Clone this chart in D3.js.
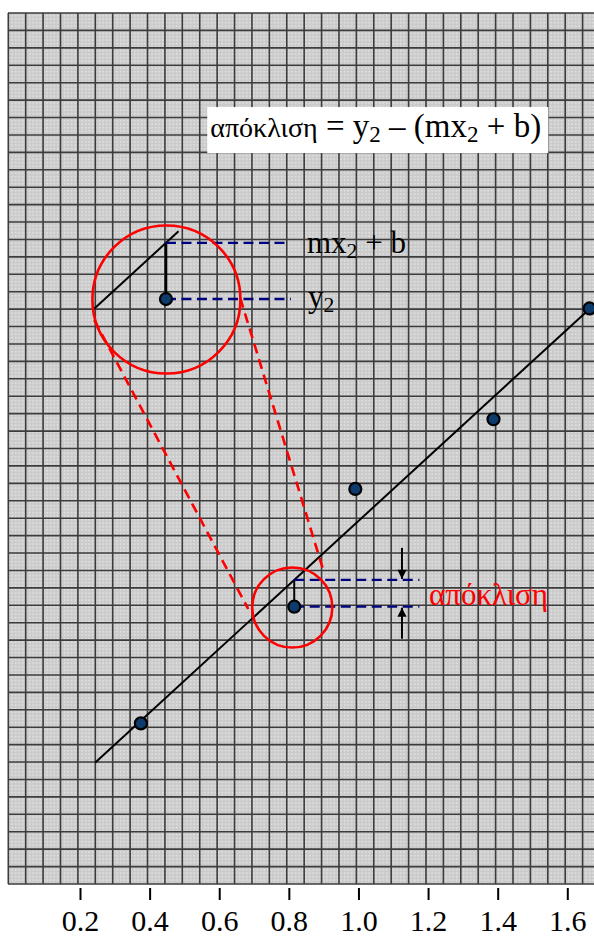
<!DOCTYPE html>
<html>
<head>
<meta charset="utf-8">
<script src="https://cdn.jsdelivr.net/npm/d3@7/dist/d3.min.js"></script>
<style>
  html, body { margin: 0; padding: 0; background: #ffffff; }
  svg { display: block; }
  svg text { font-family: "Liberation Serif", Tinos, "Times New Roman", "DejaVu Serif", serif !important; }
</style>
</head>
<body>
<svg id="chart" width="594" height="936"></svg>
<script>
// ---- data ----
const xTicks = [0.2, 0.4, 0.6, 0.8, 1.0, 1.2, 1.4, 1.6];
const pointX = [0.375, 0.8155, 0.991, 1.388, 1.664];
const pointY = [0.461, 0.796, 1.134, 1.334, 1.652];
const slope = 0.917;
const intercept = 0.125;
const fitRange = [0.244, 1.72];
const focusIndex = 1;                 // the point whose deviation is shown

// annotation geometry, in data units
const smallCircle = { cx: 0.8098, cy: 0.7936, r: 0.115 };
const bigCircle   = { cx: 0.4483, cy: 1.6777, r: 0.2126 };
const insetAnchor = [0.447, 1.679];   // where the focus point is redrawn, enlarged
const insetScale = 2.1;
const insetLineDx = [-0.099, 0.0172];
const connectors = [
  [[0.2409, 1.6188], [0.6834, 0.7893]],
  [[0.6604, 1.6820], [0.8988, 0.9013]]
];
const insetGuideEnd = 0.80;
const deviationGuideEnd = 1.175;
const arrowX = 1.125;
const arrowLen = 0.092;
const formulaBox = { x0: 0.5656, x1: 1.5453, y0: 2.098, y1: 2.230, baseline: 2.145 };

// ---- layout ----
const svg = d3.select("#chart");
const paper = { left: 8, top: 13, right: 594, bottom: 884 };
const gridOrigin = -0.006;
const gridStep = 0.05;

const x = d3.scaleLinear().domain([0.2, 1.6]).range([80, 567.3]);
const y = d3.scaleLinear().domain([0, 2.5]).range([paper.bottom, paper.top]);
const fit = v => slope * v + intercept;

// ---- graph paper ----
const defs = svg.append("defs");
const pat = defs.append("pattern").attr("id", "paperDots")
  .attr("width", 3.5).attr("height", 3.5).attr("patternUnits", "userSpaceOnUse");
pat.append("rect").attr("width", 3.5).attr("height", 3.5).attr("fill", "#cbcbcb");
pat.append("rect").attr("x", 1).attr("y", 1).attr("width", 1.3).attr("height", 1.3).attr("fill", "#eeeeee");

svg.append("rect")
  .attr("x", paper.left).attr("y", paper.top)
  .attr("width", paper.right - paper.left).attr("height", paper.bottom - paper.top)
  .attr("fill", "url(#paperDots)");

const xMaxData = x.invert(paper.right);
const vLines = d3.range(gridOrigin, xMaxData + 1e-9, gridStep);
const hLines = d3.range(0, 2.5 + 1e-9, gridStep);
const grid = svg.append("g").attr("stroke", "#3c3c3c").attr("stroke-width", 1.6);
grid.selectAll("line.v").data(vLines).join("line")
  .attr("x1", d => x(d)).attr("x2", d => x(d))
  .attr("y1", paper.top).attr("y2", paper.bottom);
grid.selectAll("line.h").data(hLines).join("line")
  .attr("x1", paper.left).attr("x2", paper.right)
  .attr("y1", d => y(d)).attr("y2", d => y(d));

// ---- x axis ----
const axis = svg.append("g")
  .attr("transform", `translate(0,${paper.bottom + 4})`)
  .call(d3.axisBottom(x).tickValues(xTicks).tickSize(12).tickFormat(d3.format(".1f")));
axis.attr("font-family", null).attr("font-size", null);
axis.select(".domain").remove();
axis.selectAll(".tick line").attr("stroke", "#000").attr("stroke-width", 2);
axis.selectAll(".tick text")
  .attr("y", 43).attr("dy", 0)
  .attr("fill", "#000")
  .attr("font-size", 30);

// ---- fitted line ----
svg.append("line")
  .attr("x1", x(fitRange[0])).attr("y1", y(fit(fitRange[0])))
  .attr("x2", x(fitRange[1])).attr("y2", y(fit(fitRange[1])))
  .attr("stroke", "#000").attr("stroke-width", 2);

// ---- formula ----
svg.append("rect")
  .attr("x", x(formulaBox.x0)).attr("y", y(formulaBox.y1))
  .attr("width", x(formulaBox.x1) - x(formulaBox.x0))
  .attr("height", y(formulaBox.y0) - y(formulaBox.y1))
  .attr("fill", "#fff");

function withSubscripts(sel, parts) {
  parts.forEach(p => {
    const t = sel.append("tspan").text(p.t);
    if (p.size) t.attr("font-size", p.size);
    if (p.sub) t.attr("font-size", "0.7em").attr("baseline-shift", "-0.22em");
  });
}
const formula = svg.append("text")
  .attr("x", x(formulaBox.x0) + 3).attr("y", y(formulaBox.baseline))
  .attr("font-size", 33).attr("fill", "#000");
withSubscripts(formula, [
  { t: "απόκλιση", size: 28 }, { t: " = y" }, { t: "2", sub: true }, { t: " – (mx" }, { t: "2", sub: true }, { t: " + b)" }
]);

// ---- deviation at the focus point ----
const fx = pointX[focusIndex], fy = pointY[focusIndex];
const dev = svg.append("g");
dev.append("line")
  .attr("x1", x(fx)).attr("x2", x(fx))
  .attr("y1", y(fy)).attr("y2", y(fit(fx)))
  .attr("stroke", "#000").attr("stroke-width", 2);

const blueDash = { stroke: "#00007f", "stroke-width": 2.4, "stroke-dasharray": "10,5.5" };
function dashed(g, x1, y1, x2, y2, style) {
  const l = g.append("line").attr("x1", x1).attr("y1", y1).attr("x2", x2).attr("y2", y2);
  Object.entries(style).forEach(([k, v]) => l.attr(k, v));
  return l;
}
dashed(dev, x(fx), y(fit(fx)), x(deviationGuideEnd), y(fit(fx)), blueDash);
dashed(dev, x(fx), y(fy), x(deviationGuideEnd), y(fy), blueDash);

// arrows pointing at the two guide lines
defs.append("marker").attr("id", "arrowHead")
  .attr("viewBox", "0 0 10 10").attr("refX", 10).attr("refY", 5)
  .attr("markerWidth", 5.2).attr("markerHeight", 4.6).attr("markerUnits", "strokeWidth")
  .attr("orient", "auto")
  .append("path").attr("d", "M0,0 L10,5 L0,10 Z").attr("fill", "#000");
dev.append("line")
  .attr("x1", x(arrowX)).attr("x2", x(arrowX))
  .attr("y1", y(fit(fx) + arrowLen)).attr("y2", y(fit(fx)) - 1)
  .attr("stroke", "#000").attr("stroke-width", 2).attr("marker-end", "url(#arrowHead)");
dev.append("line")
  .attr("x1", x(arrowX)).attr("x2", x(arrowX))
  .attr("y1", y(fy - arrowLen)).attr("y2", y(fy) + 1)
  .attr("stroke", "#000").attr("stroke-width", 2).attr("marker-end", "url(#arrowHead)");

svg.append("text")
  .attr("x", x(1.203)).attr("y", y(0.80))
  .attr("font-size", 31).attr("fill", "#ff0000")
  .text("απόκλιση");

// ---- enlarged view ----
const px0 = x(fx), py0 = y(fy);
const ix = v => x(insetAnchor[0]) + insetScale * (x(v) - px0);
const iy = v => y(insetAnchor[1]) + insetScale * (y(v) - py0);
const inset = svg.append("g");
inset.append("line")
  .attr("x1", ix(fx + insetLineDx[0])).attr("y1", iy(fit(fx + insetLineDx[0])))
  .attr("x2", ix(fx + insetLineDx[1])).attr("y2", iy(fit(fx + insetLineDx[1])))
  .attr("stroke", "#000").attr("stroke-width", 2);
inset.append("line")
  .attr("x1", ix(fx)).attr("x2", ix(fx))
  .attr("y1", iy(fy)).attr("y2", iy(fit(fx)))
  .attr("stroke", "#000").attr("stroke-width", 2.6);
dashed(inset, ix(fx), iy(fit(fx)), x(insetGuideEnd), iy(fit(fx)), blueDash);
dashed(inset, ix(fx), iy(fy), x(insetGuideEnd) + 2, iy(fy), blueDash);

const rPx = r => x(r) - x(0);
const redStyle = { stroke: "#ff0000", "stroke-width": 2.6, "stroke-dasharray": "10,6", fill: "none" };
connectors.forEach(c => dashed(svg, x(c[0][0]), y(c[0][1]), x(c[1][0]), y(c[1][1]), redStyle));
[smallCircle, bigCircle].forEach(c => {
  svg.append("circle")
    .attr("cx", x(c.cx)).attr("cy", y(c.cy)).attr("r", rPx(c.r))
    .attr("fill", "none").attr("stroke", "#ff0000").attr("stroke-width", 2.6);
});

// labels of the enlarged guides
const lbl1 = svg.append("text")
  .attr("x", x(0.852)).attr("y", iy(fit(fx)) + 10)
  .attr("font-size", 31).attr("fill", "#000");
withSubscripts(lbl1, [{ t: "mx" }, { t: "2", sub: true }, { t: " + b" }]);
const lbl2 = svg.append("text")
  .attr("x", x(0.855)).attr("y", iy(fy) + 8)
  .attr("font-size", 31).attr("fill", "#000");
withSubscripts(lbl2, [{ t: "y" }, { t: "2", sub: true }]);

// ---- points ----
const pts = pointX.map((v, i) => [v, pointY[i]]);
svg.append("g").selectAll("circle").data(pts).join("circle")
  .attr("cx", d => x(d[0])).attr("cy", d => y(d[1])).attr("r", 6)
  .attr("fill", "#0c3b6c").attr("stroke", "#000").attr("stroke-width", 2.2);
inset.append("circle")
  .attr("cx", ix(fx)).attr("cy", iy(fy)).attr("r", 6)
  .attr("fill", "#0c3b6c").attr("stroke", "#000").attr("stroke-width", 2.2);
</script>
</body>
</html>
